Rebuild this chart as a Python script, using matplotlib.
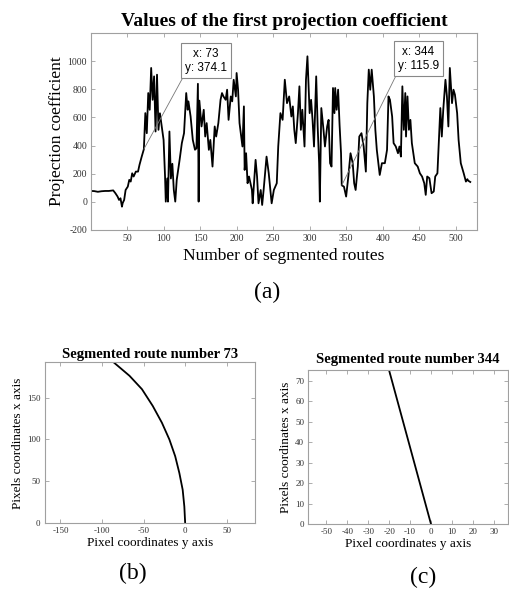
import matplotlib

matplotlib.use("Agg")
import matplotlib.pyplot as plt
import numpy as np

plt.rcParams["axes.unicode_minus"] = False

SERIF = "Liberation Serif"
SANS = "Liberation Sans"

# first projection coefficient per segmented route
route_numbers = [
    1, 5, 10, 15, 20, 25, 31, 34, 37, 39, 41, 43, 44, 46, 48, 51, 53, 55, 57, 59,
    62, 65, 67, 70, 73, 75, 77, 79, 81, 83, 85, 87, 89, 91, 93, 95, 100, 102,
    103, 105, 106, 108, 110, 112, 114, 116, 118, 122, 125, 128, 131, 133, 134,
    137, 140, 143, 145, 147, 148, 149, 152, 155, 157, 159, 162, 164, 167, 170,
    172, 175, 178, 180, 182, 185, 187, 189, 192, 194, 196, 199, 200, 202, 204,
    208, 210, 211, 213, 215, 217, 221, 222, 226, 228, 230, 233, 235, 237, 241,
    244, 248, 251, 255, 257, 260, 263, 266, 269, 272, 275, 277, 279, 281, 284,
    286, 288, 290, 293, 295, 297, 300, 302, 304, 306, 309, 311, 313, 314, 316,
    319, 321, 324, 326, 328, 330, 332, 334, 335, 337, 339, 341, 343, 344, 347,
    350, 353, 356, 359, 361, 363, 366, 368, 371, 374, 377, 379, 381, 383, 385,
    388, 390, 392, 396, 399, 403, 406, 408, 410, 413, 415, 418, 421, 423, 425,
    427, 429, 431, 432, 434, 436, 438, 440, 444, 448, 451, 454, 457, 459, 461,
    464, 467, 470, 472, 475, 477, 479, 481, 483, 486, 488, 490, 492, 495, 497,
    499, 502, 504, 507, 511, 514, 516, 517, 519, 520,
]
coefficients = [
    76, 75, 70, 74, 76, 76, 80, 60, 36, 12, 24, -36, -10, 12, 83, 107, 155, 143,
    202, 179, 214, 214, 262, 320, 374.1, 631, 488, 774, 655, 953, 726, 893, 500,
    905, 512, 630, 440, 180, 0, 165, 0, 500, 165, 270, 83, 0, 155, 300, 417, 488,
    774, 655, 715, 607, 440, 370, 380, 840, 0, 720, 536, 655, 464, 560, 369, 440,
    250, 536, 464, 560, 726, 774, 750, 726, 798, 583, 750, 715, 869, 750, 917,
    798, 560, 393, 679, 226, 345, 131, 179, 83, -12, 298, 179, -12, 83, -24, 83,
    321, 202, -12, 83, 131, 393, 631, 583, 869, 702, 750, 607, 679, 512, 417,
    631, 822, 512, 655, 393, 869, 1036, 631, 726, 583, 393, 893, 536, 274, 0,
    667, 512, 393, 536, 583, 274, 250, 810, 631, 810, 655, 798, 548, 345, 115.9,
    107, 36, 179, 345, 274, 131, 83, 250, 464, 488, 393, 214, 702, 941, 798, 941,
    750, 512, 369, 190, 274, 274, 369, 750, 726, 607, 417, 393, 345, 393, 321,
    822, 512, 774, 464, 750, 512, 583, 417, 274, 250, 202, 179, 131, 48, 179,
    167, 60, 72, 179, 202, 440, 667, 464, 655, 869, 750, 536, 953, 702, 798,
    762, 631, 440, 274, 202, 143, 160, 150, 143, 140,
]

# segmented route 73: curved path, route 344: straight path
route73_y = [0, -1, -3, -7, -12, -19, -28, -39, -52, -67, -86]
route73_x = [0, 20, 40, 60, 80, 100, 120, 140, 160, 176, 192]
route344_y = [0, -20]
route344_x = [0, 75]

main_ticks_x = [50, 100, 150, 200, 250, 300, 350, 400, 450, 500]
main_ticks_y = [-200, 0, 200, 400, 600, 800, 1000]

SPINE = "#a0a0a0"
TICKLBL = "#333333"


def style_axes(ax, labelsize):
    for side in ("top", "right", "bottom", "left"):
        ax.spines[side].set_color(SPINE)
        ax.spines[side].set_linewidth(0.8)
    ax.tick_params(direction="in", top=True, right=True, length=3, width=0.6,
                   color=SPINE, labelsize=labelsize, labelcolor=TICKLBL, pad=3)
    for lbl in ax.get_xticklabels() + ax.get_yticklabels():
        lbl.set_fontfamily(SERIF)


fig = plt.figure(figsize=(5.1, 5.95), dpi=100)

# (a) main plot
ax = fig.add_axes([0.179, 0.614, 0.756, 0.330])
ax.plot(route_numbers, coefficients, color="black", linewidth=1.3)
ax.set_xlim(1, 529)
ax.set_ylim(-200, 1200)
ax.set_xticks(main_ticks_x)
ax.set_yticks(main_ticks_y)
style_axes(ax, 7)
ax.set_title("Values of the first projection coefficient", fontfamily=SERIF,
             fontsize=14, fontweight="bold", pad=5)
ax.set_xlabel("Number of segmented routes", fontfamily=SERIF, fontsize=12.5, labelpad=4)
ax.set_ylabel("Projection coefficient", fontfamily=SERIF, fontsize=12.5, labelpad=2)

for px, py, tx, ty in [(73, 374.1, 158, 1005), (344, 115.9, 449, 1019)]:
    ax.annotate("x: %g\ny: %g" % (px, py), xy=(px, py), xytext=(tx, ty),
                textcoords="data", ha="center", va="center",
                fontfamily=SANS, fontsize=8.5, linespacing=1.25,
                bbox=dict(boxstyle="square,pad=0.35", fc="white", ec="#888888", lw=0.8),
                arrowprops=dict(arrowstyle="-", color="#777777", lw=0.6,
                                relpos=(0, 0), shrinkA=0, shrinkB=0))

fig.text(0.524, 0.508, "(a)", ha="center", va="center", fontfamily=SERIF, fontsize=17)

# (b) route 73
axb = fig.add_axes([0.0876, 0.1205, 0.4124, 0.2705])
axb.plot(route73_y, route73_x, color="black", linewidth=1.3)
axb.set_xlim(-169, 84)
axb.set_ylim(0, 192)
axb.set_xticks([-150, -100, -50, 0, 50])
axb.set_yticks([0, 50, 100, 150])
style_axes(axb, 6.5)
axb.set_title("Segmented route number 73", fontfamily=SERIF, fontsize=10.5,
              fontweight="bold", pad=3)
axb.set_xlabel("Pixel coordinates y axis", fontfamily=SERIF, fontsize=9.5, labelpad=1)
axb.set_ylabel("Pixels coordinates x axis", fontfamily=SERIF, fontsize=9.5, labelpad=2)
fig.text(0.261, 0.037, "(b)", ha="center", va="center", fontfamily=SERIF, fontsize=17)

# (c) route 344
axc = fig.add_axes([0.6045, 0.119, 0.3915, 0.259])
axc.plot(route344_y, route344_x, color="black", linewidth=1.3)
axc.set_xlim(-58.7, 36.8)
axc.set_ylim(0, 75.3)
axc.set_xticks([-50, -40, -30, -20, -10, 0, 10, 20, 30])
axc.set_yticks([0, 10, 20, 30, 40, 50, 60, 70])
style_axes(axc, 6.5)
axc.set_title("Segmented route number 344", fontfamily=SERIF, fontsize=10.5,
              fontweight="bold", pad=5)
axc.set_xlabel("Pixel coordinates y axis", fontfamily=SERIF, fontsize=9.5, labelpad=1)
axc.set_ylabel("Pixels coordinates x axis", fontfamily=SERIF, fontsize=9.5, labelpad=2)
fig.text(0.829, 0.030, "(c)", ha="center", va="center", fontfamily=SERIF, fontsize=17)

fig.savefig("out.png", dpi=100)
plt.close(fig)
